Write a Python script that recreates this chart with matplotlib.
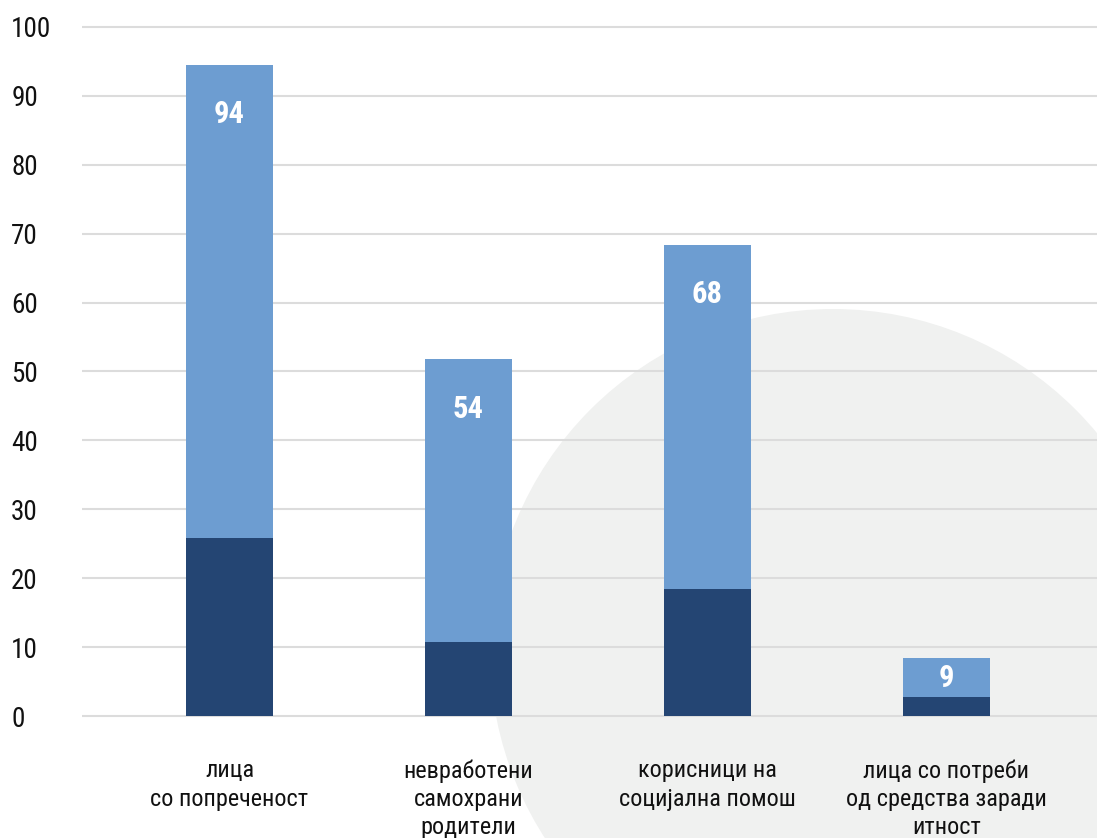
import numpy as np
import matplotlib.pyplot as plt
from matplotlib.patches import Ellipse

categories = ['лица\nсо попреченост', 'невработени\nсамохрани\nродители',
              'корисници на\nсоцијална помош', 'лица со потреби\nод средства заради\nитност']
dark = [25.8, 10.7, 18.4, 2.8]
total = [94.5, 51.8, 68.4, 8.4]
value_labels = ['94', '54', '68', '9']
yticks = [0, 10, 20, 30, 40, 50, 60, 70, 80, 90, 100]

light = [t - d for t, d in zip(total, dark)]

plt.rcParams['font.family'] = ['Roboto Condensed', 'DejaVu Sans']

W, H = 1097, 838
fig = plt.figure(figsize=(W / 100, H / 100), dpi=100)
fig.patch.set_facecolor('white')

# background circle (pixel measurements converted to figure fraction)
cx, cy, r = 833, 652, 343
circ = Ellipse((cx / W, 1 - cy / H), 2 * r / W, 2 * r / H,
               transform=fig.transFigure, facecolor='#f0f1f0',
               edgecolor='none', zorder=-5)
fig.add_artist(circ)

ax = fig.add_axes([82 / W, 1 - 723 / H, 1 - 82 / W, (723 - 20) / H])
ax.set_facecolor('none')

x = np.arange(len(categories))
w = 0.364
ax.bar(x, dark, w, color='#244573', zorder=3)
ax.bar(x, light, w, bottom=dark, color='#6d9dd1', zorder=3)

for i in range(len(x)):
    ty = max(total[i] - 7.2, (total[i] + dark[i]) / 2)
    ax.text(x[i], ty, value_labels[i], ha='center', va='center',
            color='white', fontsize=22, fontweight='bold', zorder=4)

ax.set_xlim(-0.617, 3.63)
ax.set_ylim(-1, 101)
ax.set_yticks(yticks)
ax.set_yticklabels([str(v) for v in yticks], fontsize=19.5, color='#111111')
for lab in ax.get_yticklabels():
    lab.set_ha('left')
ax.tick_params(axis='y', length=0, pad=51)
ax.set_xticks(x)
ax.set_xticklabels(categories, fontsize=17.5, color='#111111', linespacing=1.3,
                   va='top')
ax.tick_params(axis='x', length=0, pad=26)

ax.grid(axis='y', color='#dcdcdc', linewidth=1.5, zorder=0)
for s in ax.spines.values():
    s.set_visible(False)

fig.savefig('out.png', dpi=100)
